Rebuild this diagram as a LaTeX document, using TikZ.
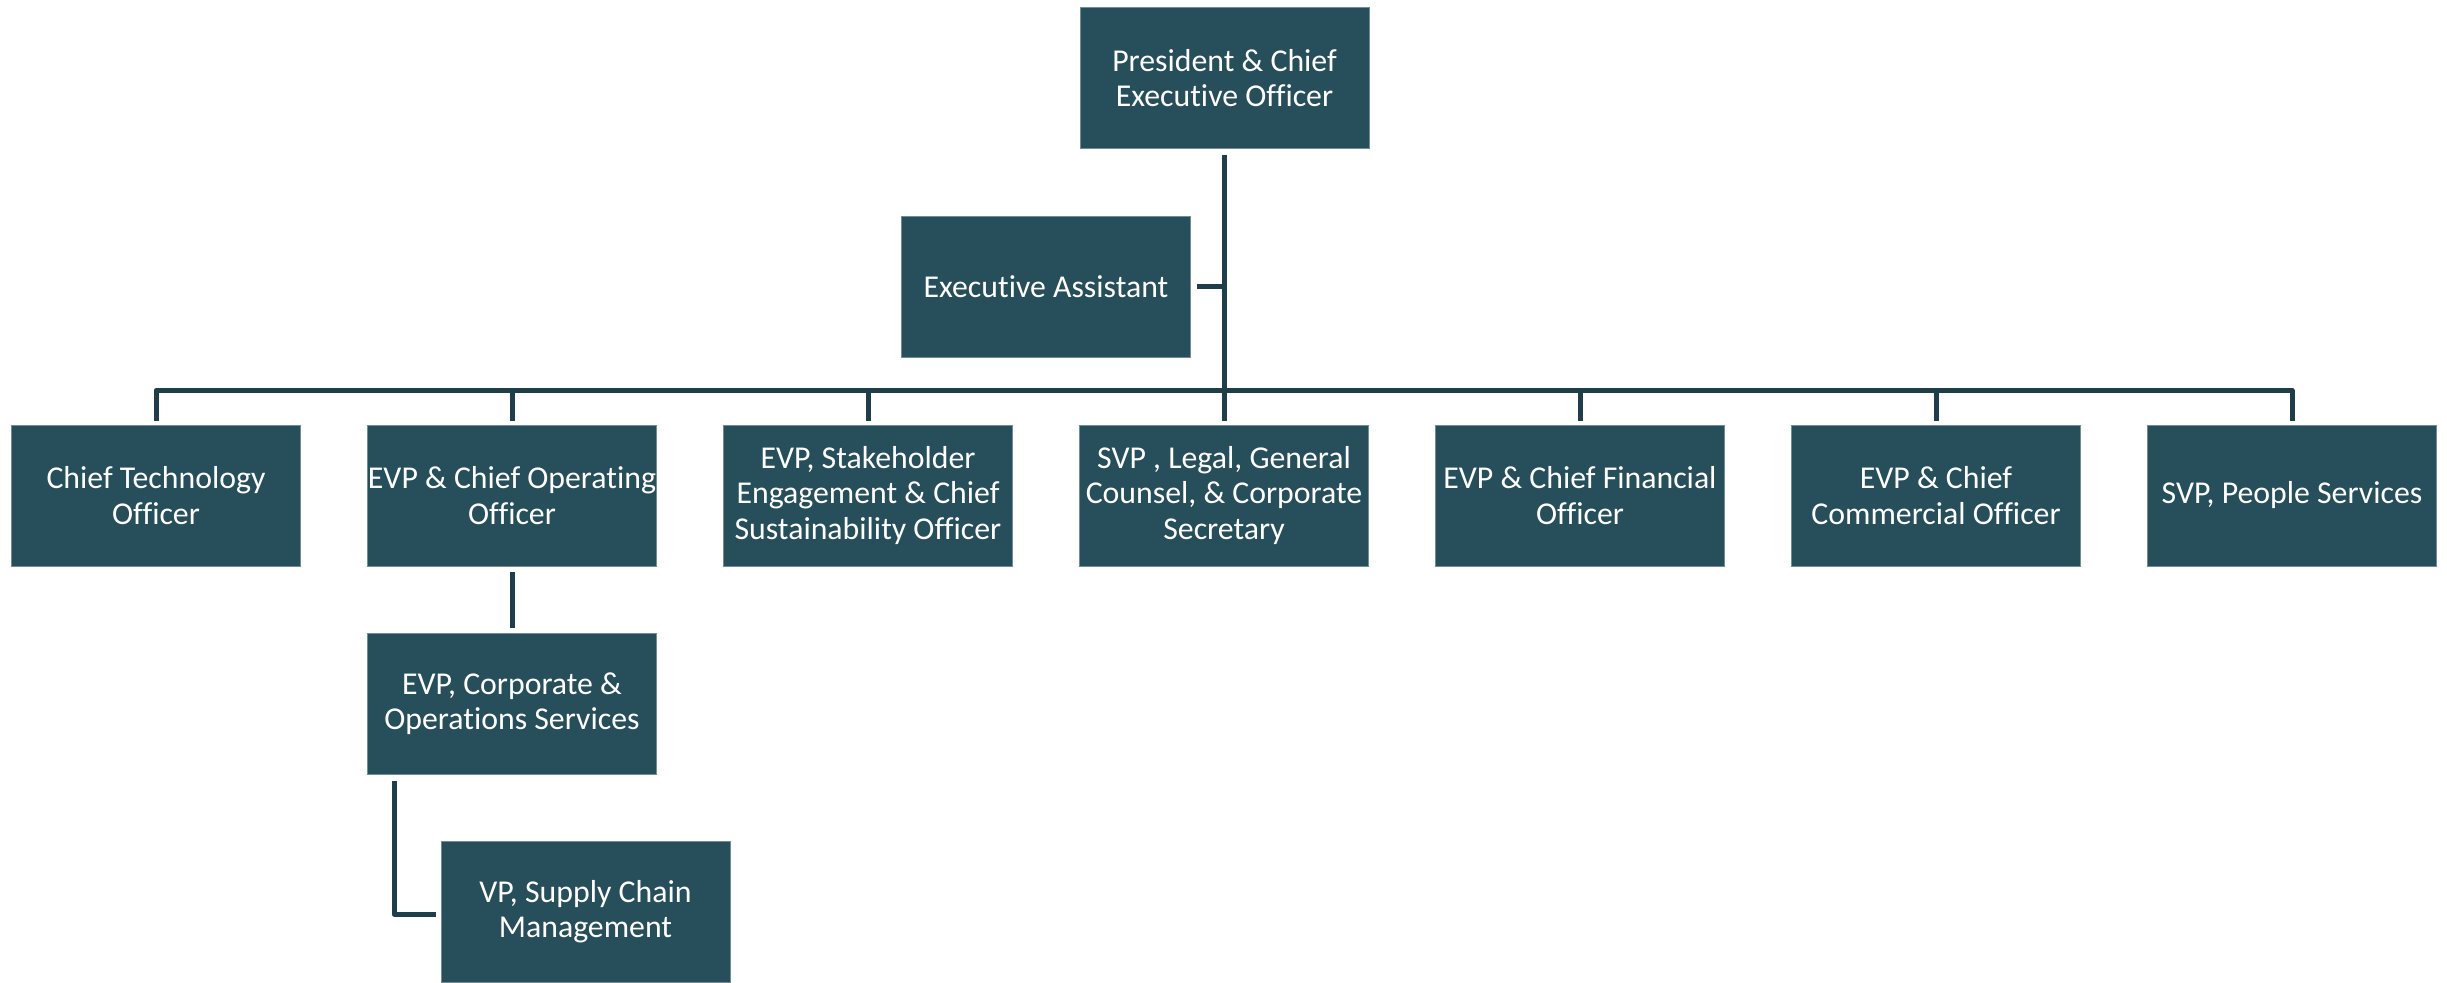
\documentclass[tikz,border=0pt]{standalone}
\usepackage{fontspec}
\setmainfont{Carlito}[Ligatures=NoCommon]
\usetikzlibrary{calc}
\definecolor{boxfill}{RGB}{38,78,91}
\definecolor{linecol}{RGB}{30,62,73}
\begin{document}
\begin{tikzpicture}[x=0.5pt,y=-0.5pt,
  orgbox/.style={rectangle, fill=boxfill, draw=boxfill!65!white, line width=0.4pt,
    text=white, minimum width=144.5pt, minimum height=70.5pt, inner sep=0pt,
    align=center, font=\fontsize{15.9}{17.6}\selectfont},
  conn/.style={draw=linecol, line width=2.5pt, line join=round}]
\useasboundingbox (0,0) rectangle (2447,982);
% top
\node[orgbox] (pres) at (1224.5,78) {President \& Chief\\Executive Officer};
\node[orgbox] (ea) at (1046,286.5) {Executive Assistant};
% level 2
\node[orgbox] (cto) at (156,495.5) {Chief Technology\\Officer};
\node[orgbox] (coo) at (512,495.5) {EVP \& Chief Operating\\Officer};
\node[orgbox] (cso) at (868,495.5) {EVP, Stakeholder\\Engagement \& Chief\\Sustainability Officer};
\node[orgbox] (legal) at (1224,495.5) {SVP , Legal, General\\Counsel, \& Corporate\\Secretary};
\node[orgbox] (cfo) at (1580,495.5) {EVP \& Chief Financial\\Officer};
\node[orgbox] (cco) at (1936,495.5) {EVP \& Chief\\Commercial Officer};
\node[orgbox] (ppl) at (2292,495.5) {SVP, People Services};
% level 3
\node[orgbox] (corp) at (512,704) {EVP, Corporate \&\\Operations Services};
\node[orgbox] (vp) at (585.5,912) {VP, Supply Chain\\Management};
% connectors
\coordinate (bus) at (1224,390.5);
\draw[conn] ($(pres.south)+(0,6)$) -- (pres.south |- bus);
\draw[conn] ($(ea.east)+(6,0)$) -- (ea.east -| pres.south);
\draw[conn] ($(cto.north)+(0,-4)$) -- (cto.north |- bus) -- (ppl.north |- bus) -- ($(ppl.north)+(0,-4)$);
\foreach \n in {coo,cso,legal,cfo,cco}
  \draw[conn] ($(\n.north)+(0,-4)$) -- (\n.north |- bus);
\draw[conn] ($(coo.south)+(0,6)$) -- ($(corp.north)+(0,-5)$);
\draw[conn] ($(corp.south west)+(27,6)$) |- ($(vp.west)+(-5,2)$);
\end{tikzpicture}
\end{document}
